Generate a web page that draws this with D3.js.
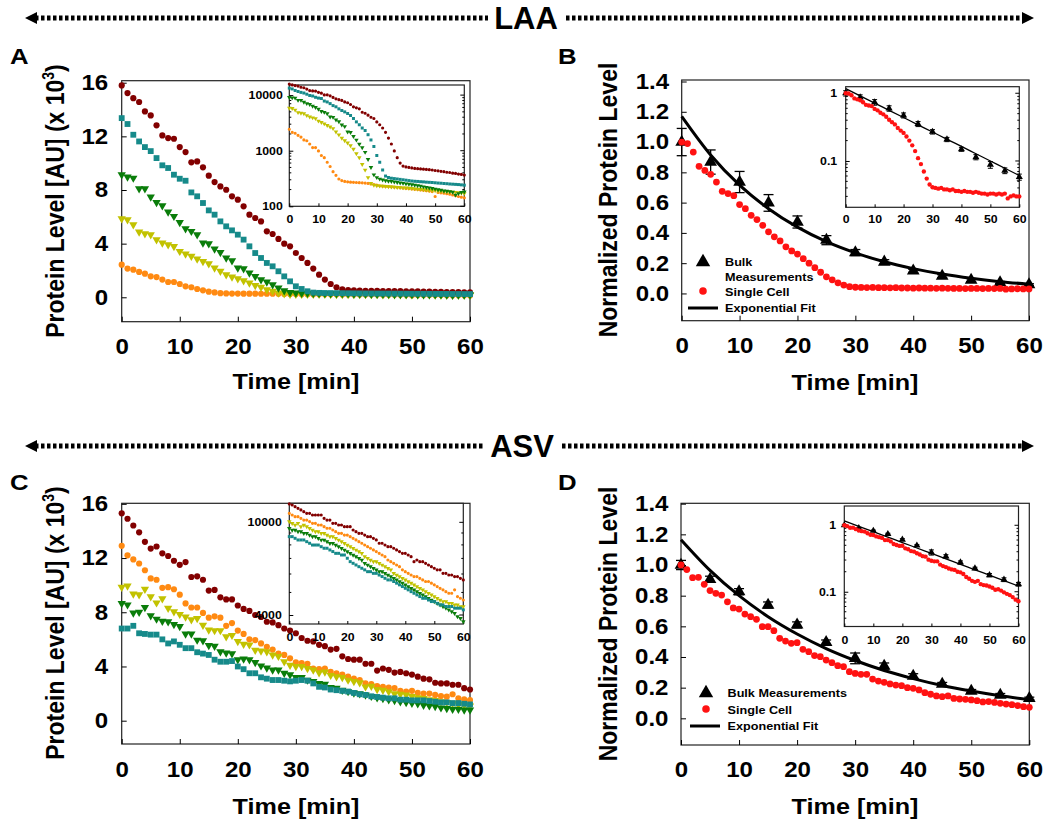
<!DOCTYPE html>
<html>
<head>
<meta charset="utf-8">
<title>LAA / ASV protein degradation</title>
<script src="https://cdn.jsdelivr.net/npm/d3@7"></script>
<style>
  body { margin: 0; background: #fff; }
  svg text { font-family: "Liberation Sans", Arial, sans-serif; font-weight: bold; fill: #000; }
</style>
</head>
<body>
<svg id="fig" width="1047" height="820"></svg>
<script>
// ---- time points ----
const minutes = [0,1,2,3,4,5,6,7,8,9,10,11,12,13,14,15,16,17,18,19,20,21,22,23,24,25,26,27,28,29,30,
  31,32,33,34,35,36,37,38,39,40,41,42,43,44,45,46,47,48,49,50,51,52,53,54,55,56,57,58,59,60];
const bulkTimes = [0,5,10,15,20,25,30,35,40,45,50,55,60];

// ---- panel A (LAA, single cells, AU) ----
const laaMaroon = [15800,15230,14850,14560,13860,13560,12820,12070,11870,11820,11200,
  10830,10060,10130,9690,9070,8590,8270,8020,7530,7280,
  6780,6160,5910,5660,4920,4720,4350,4000,3800,3300,
  2930,2560,2140,1690,1320,990,750,600,530,510,
  500,490,480,475,470,465,460,455,450,440,
  435,425,420,410,405,395,390,380,375,365];
const laaTeal = [13360,12920,12120,11620,11200,10900,10380,9840,9640,9140,8840,
  8690,7820,7530,7030,6480,6160,5660,5290,4990,4670,
  4300,3800,3300,2930,2560,2310,1940,1560,1190,820,
  620,450,350,330,320,315,310,305,300,295,
  290,285,282,280,277,275,272,270,268,265,
  262,260,257,255,252,250,248,246,243,240];
const laaGreen = [9140,8970,8890,8100,8100,7480,7080,6830,6360,6040,5590,
  5120,4920,4670,4050,4000,3600,3350,2930,2730,2190,
  2140,1810,1560,1320,1140,940,700,500,370,330,
  310,300,290,285,280,275,270,265,260,255,
  250,245,240,235,230,225,220,215,210,205,
  200,195,190,188,185,180,160,170,178,182];
const laaYellow = [5860,5790,5410,4870,4740,4670,4300,4050,3920,3800,3430,
  3230,3060,2860,2680,2510,2190,1940,1690,1520,1390,
  1240,1070,890,750,570,450,330,260,240,235,
  232,230,228,226,224,222,220,218,216,214,
  212,210,207,205,203,200,198,196,194,192,
  190,188,186,184,182,180,178,176,174,170];
const laaOrange = [2430,2140,2060,1890,1760,1560,1510,1320,1140,1140,990,
  820,750,620,520,420,360,310,290,280,276,
  272,270,268,266,264,262,258,252,246,240,
  234,230,228,226,224,222,220,216,213,210,
  208,205,202,200,197,194,191,188,184,150,
  178,175,172,168,165,160,155,150,146,142];

// ---- panel B (LAA, normalized) ----
const laaBulk = [1.0,0.868,0.736,0.598,0.472,0.352,0.27,0.208,0.149,0.114,0.088,0.072,0.058];
const laaBulkErr = [0.09,0.08,0.07,0.055,0.04,0.03,0.02,0.015,0.01,0.01,0.01,0.007,0.006];
const laaFit = [1.17,0.915,0.715,0.56,0.438,0.342,0.268,0.209,0.164,0.128,0.100,0.078,0.061];
const laaSingle = [1.0,0.99,0.934,0.84,0.813,0.787,0.736,0.675,0.66,0.646,0.587,
  0.56,0.516,0.488,0.45,0.407,0.374,0.347,0.308,0.281,0.26,
  0.23,0.2,0.17,0.14,0.11,0.09,0.07,0.055,0.045,0.041,
  0.04,0.039,0.04,0.038,0.038,0.037,0.038,0.036,0.036,0.035,
  0.036,0.035,0.035,0.034,0.035,0.034,0.033,0.033,0.032,0.033,
  0.033,0.032,0.033,0.032,0.033,0.028,0.030,0.031,0.030,0.030];

// ---- panel C (ASV, single cells, AU) ----
const asvMaroon = [15300,14900,14400,13900,13200,12700,12850,12350,12150,11800,11500,
  11700,10600,10650,10400,9600,9650,9100,8950,8950,8500,
  8250,8100,7800,7650,7300,7250,7050,6800,6650,6450,
  6100,5900,5850,5600,5500,5250,5300,4750,4550,4500,
  4500,4200,4200,3700,3850,3750,3550,3600,3500,3400,
  3250,3100,3050,2800,2750,2750,2650,2650,2400,2300];
const asvOrange = [12900,12200,11900,11600,11100,10500,10400,9800,9850,9700,9300,
  8650,8350,8350,7950,7600,7700,7600,7000,7200,6650,
  6400,6000,5950,5700,5450,5250,4950,4850,4600,4300,
  4250,4200,3850,3800,3850,3600,3500,3400,3250,3100,
  3000,2750,2700,2550,2500,2450,2400,2200,2150,2200,
  2050,2000,2000,1900,1820,1770,1950,1650,1570,1520];
const asvYellow = [9850,9950,9350,9300,9700,9150,8700,9000,8300,8050,7850,
  7650,7450,7550,7050,6700,6650,6650,6200,6300,5850,
  5650,5600,5200,5150,5100,4850,4750,4350,4100,4000,
  4000,3850,3750,3550,3600,3350,3250,3200,3000,2900,
  2800,2500,2550,2300,2250,2150,2000,1950,1900,1800,
  1700,1650,1550,1500,1400,1350,1300,1200,1150,1100];
const asvGreen = [8650,8550,7950,8000,8350,7750,7500,7350,7300,7100,6950,
  6400,6400,5950,5900,5550,5500,5100,5000,4950,4500,
  4550,4500,4300,4050,3900,3750,3750,3500,3400,3200,
  3200,3000,2900,2750,2700,2450,2400,2250,2150,2050,
  2000,1900,1800,1700,1650,1550,1500,1400,1350,1300,
  1250,1150,1100,1050,950,900,850,850,800,800];
const asvTeal = [6800,6800,7000,6450,6400,6350,6350,6000,5700,5850,5600,
  5350,5350,5050,4950,4850,4500,4350,4350,4400,4000,
  3800,3500,3500,3200,3100,3000,3000,2950,2900,2950,
  3000,2950,2750,2500,2450,2300,2250,2200,2150,2050,
  1950,1900,1800,1750,1700,1650,1650,1550,1550,1500,
  1500,1500,1450,1400,1350,1350,1300,1300,1250,1200];

// ---- panel C inset (ASV, log view, AU) ----
const asvInMaroon = [12000,11870,11670,11480,11300,11110,10930,10930,10750,10750,10750,
  10750,10400,10230,10230,9900,9900,9740,9740,9580,9580,
  9580,9270,9120,8970,8970,8820,8680,8680,8540,8400,
  8130,8130,7990,7860,7860,7740,7610,7490,7360,7360,
  7240,7120,6780,6890,6780,6780,6670,6560,6450,6350,
  6250,6250,6040,6040,5940,5940,5850,5850,5750,5660];
const asvInOrange = [10930,10750,10580,10580,10400,10230,10230,10070,9900,9900,9740,
  9740,9580,9430,9430,9270,9120,8970,8970,8820,8820,
  8680,8540,8400,8260,8130,7990,7860,7740,7610,7490,
  7360,7240,7120,6890,6780,6670,6560,6450,6250,6140,
  6040,5940,5850,5850,5750,5660,5570,5570,5480,5390,
  5300,5210,5130,5040,4960,4960,5130,4800,4720,4640];
const asvInYellow = [10070,9900,9740,9900,9580,9740,9580,9430,9270,9120,9120,
  8970,8970,8820,8680,8680,8540,8400,8260,8130,7990,
  7860,7740,7610,7490,7360,7120,7010,6890,6780,6780,
  6670,6560,6450,6350,6250,6040,5940,5850,5750,5660,
  5570,5480,5390,5300,5210,5130,5040,4960,4880,4800,
  4720,4640,4570,4570,4490,4490,4420,4420,4350,4350];
const asvInGreen = [9430,9270,9270,9120,9120,8970,8970,8820,8680,8680,8540,
  8400,8400,8260,8130,8130,7990,7860,7740,7610,7490,
  7360,7240,7120,7010,6890,6670,6560,6450,6350,6250,
  6140,6140,6040,5940,5850,5750,5660,5570,5480,5390,
  5300,5210,5130,5040,4960,4880,4800,4720,4640,4570,
  4490,4420,4350,4280,4210,4140,4070,3940,3870,3750];
const asvInTeal = [8680,8680,8540,8400,8400,8400,8260,8130,7990,7990,7990,
  7860,7740,7740,7610,7490,7360,7360,7240,7240,7010,
  6780,6670,6560,6450,6350,6250,6140,6140,6040,6040,
  5940,5850,5750,5660,5660,5570,5480,5390,5300,5210,
  5130,5040,4960,4880,4800,4720,4720,4640,4570,4570,
  4490,4420,4420,4350,4350,4350,4280,4280,4280,4210];

// ---- panel D (ASV, normalized) ----
const asvBulk = [1.0,0.907,0.826,0.739,0.609,0.496,0.391,0.341,0.276,0.224,0.178,0.152,0.13];
const asvBulkErr = [0.03,0.02,0.02,0.02,0.02,0.015,0.035,0.02,0.015,0.01,0.01,0.01,0.008];
const asvFit = [1.165,0.965,0.80,0.663,0.55,0.455,0.377,0.312,0.259,0.214,0.178,0.147,0.122];
const asvSingle = [1.0,0.97,0.917,0.92,0.874,0.833,0.815,0.804,0.76,0.72,0.713,
  0.68,0.663,0.646,0.598,0.598,0.572,0.522,0.504,0.489,0.493,
  0.45,0.435,0.409,0.402,0.38,0.363,0.343,0.337,0.304,0.293,
  0.287,0.287,0.256,0.243,0.235,0.224,0.217,0.213,0.2,0.196,
  0.185,0.167,0.157,0.146,0.141,0.146,0.13,0.126,0.124,0.12,
  0.115,0.107,0.109,0.104,0.098,0.093,0.089,0.083,0.076,0.072];

// ---- colours ----
const cMaroon = "#820000", cTeal = "#168a8a", cGreen = "#0a7d0a",
      cYellow = "#c2c200", cOrange = "#ff8a12", cRed = "#ff1212";

const STRETCH = 1.12;   // the figure is a bit wider than tall
const svg = d3.select("#fig");
svg.append("rect").attr("width", 1047).attr("height", 820).attr("fill", "#fff");

function label(g, x, y, str, size, anchor) {
  return g.append("text")
    .attr("transform", `translate(${x},${y}) scale(${STRETCH},1)`)
    .attr("text-anchor", anchor || "start")
    .style("font-size", size + "px")
    .text(str);
}

function stretchAxis(g, size) {
  g.attr("font-family", null).attr("font-size", null);
  g.selectAll("text").style("font-size", size + "px").each(function () {
    const t = d3.select(this);
    const x = +t.attr("x") || 0;
    t.attr("transform", `translate(${x},0) scale(${STRETCH},1)`).attr("x", 0);
  });
  g.selectAll(".tick line").attr("stroke", "#000");
  g.select(".domain").remove();
}

function box(g, x, y, fill) {
  g.append("rect")
    .attr("x", x.range()[0]).attr("y", y.range()[1])
    .attr("width", x.range()[1] - x.range()[0])
    .attr("height", y.range()[0] - y.range()[1])
    .attr("fill", fill || "none").attr("stroke", "#222").attr("stroke-width", 1.2);
}

function markers(g, x, y, xs, vals, shape, color, size, k) {
  const type = shape === "square" ? d3.symbolSquare : shape === "circle" ? d3.symbolCircle : d3.symbolTriangle;
  const rot = shape === "down" ? " rotate(180)" : "";
  g.append("g").selectAll("path")
    .data(vals.map((v, i) => [xs[i], v / (k || 1)]))
    .join("path")
    .attr("d", d3.symbol().type(type).size(size))
    .attr("transform", d => `translate(${x(d[0])},${y(d[1])})${rot}`)
    .attr("fill", color);
}

function mainAxes(g, x, y, yTicks, yFmt, padY, padX) {
  g.append("g").attr("transform", `translate(${x.range()[0]},0)`)
    .call(d3.axisLeft(y).tickValues(yTicks).tickFormat(yFmt).tickSize(-5).tickPadding(padY))
    .call(a => stretchAxis(a, 21.5));
  g.append("g").attr("transform", `translate(0,${y.range()[0]})`)
    .call(d3.axisBottom(x).tickValues([0,10,20,30,40,50,60]).tickSize(-5).tickPadding(padX))
    .call(a => stretchAxis(a, 21.5));
}

function insetAxes(g, x, y, yTicks, yFmt, minor, padY, padX) {
  g.append("g").attr("transform", `translate(${x.range()[0]},0)`)
    .call(d3.axisLeft(y).tickValues(yTicks).tickFormat(yFmt).tickSize(-4).tickPadding(padY))
    .call(a => stretchAxis(a, 11));
  g.append("g").attr("transform", `translate(0,${y.range()[0]})`)
    .call(d3.axisBottom(x).tickValues([0,10,20,30,40,50,60]).tickSize(-3).tickPadding(padX))
    .call(a => stretchAxis(a, 11));
  const x0 = x.range()[0], x1 = x.range()[1];
  const ticks = g.append("g").attr("stroke", "#000").attr("stroke-width", 1);
  ticks.selectAll("line.ml").data(minor).join("line")
    .attr("x1", x0).attr("x2", x0 + 2).attr("y1", d => y(d)).attr("y2", d => y(d));
  ticks.selectAll("line.mr").data(minor).join("line")
    .attr("x1", x1).attr("x2", x1 - 2).attr("y1", d => y(d)).attr("y2", d => y(d));
  ticks.selectAll("line.jr").data(yTicks).join("line")
    .attr("x1", x1).attr("x2", x1 - 4).attr("y1", d => y(d)).attr("y2", d => y(d));
}

function yTitle(g, x, y, build) {
  const t = g.append("text")
    .attr("transform", `translate(${x},${y}) scale(${STRETCH},1) rotate(-90)`)
    .attr("text-anchor", "middle").style("font-size", "23px");
  build(t);
}

function bulkPlot(g, x, y, bulk, err, fit, single, big) {
  const line = d3.line().x((d, i) => x(bulkTimes[i])).y(d => y(d)).curve(d3.curveMonotoneX);
  const cap = big ? 5 : 2.5;
  const eb = g.append("g").attr("stroke", "#000").attr("stroke-width", big ? 1.3 : 1);
  bulk.forEach((v, i) => {
    const xx = x(bulkTimes[i]);
    eb.append("line").attr("x1", xx).attr("x2", xx).attr("y1", y(v - err[i])).attr("y2", y(v + err[i]));
    eb.append("line").attr("x1", xx - cap).attr("x2", xx + cap).attr("y1", y(v + err[i])).attr("y2", y(v + err[i]));
    eb.append("line").attr("x1", xx - cap).attr("x2", xx + cap).attr("y1", y(v - err[i])).attr("y2", y(v - err[i]));
  });
  g.append("path").datum(fit).attr("d", line).attr("fill", "none")
    .attr("stroke", "#000").attr("stroke-width", big ? 3 : 1.3);
  markers(g, x, y, bulkTimes, bulk, "up", "#000", big ? 70 : 22);
  markers(g, x, y, minutes, single, "circle", cRed, big ? 36 : 15);
}

function dottedArrow(y, xl, xr, cx, gapL, gapR, txt) {
  const g = svg.append("g");
  const seg = [[xl + 10, cx - gapL], [cx + gapR, xr - 10]];
  seg.forEach(s => g.append("line").attr("x1", s[0]).attr("x2", s[1]).attr("y1", y).attr("y2", y)
    .attr("stroke", "#000").attr("stroke-width", 5).attr("stroke-dasharray", "3.5 2.5"));
  g.append("path").attr("d", `M${xl},${y} L${xl + 12},${y - 6} L${xl + 12},${y + 6} Z`);
  g.append("path").attr("d", `M${xr},${y} L${xr - 12},${y - 6} L${xr - 12},${y + 6} Z`);
  g.append("text").attr("x", cx).attr("y", y + 11).attr("text-anchor", "middle")
    .style("font-size", "31px").text(txt);
}

const fmt = d3.format("d");
const fmt1 = d3.format(".1f");
const logFmt = d => d >= 1 ? fmt(d) : String(d);

// ================= header rows =================
dottedArrow(18, 25, 1034, 526, 38, 40, "LAA");
dottedArrow(446, 25, 1034, 522, 38, 40, "ASV");

// ================= panel A =================
{
  const g = svg.append("g");
  const x = d3.scaleLinear([0, 60], [121.7, 470]);
  const y = d3.scaleLinear([-1.82, 16.15], [321.7, 80.7]);
  box(g, x, y);
  mainAxes(g, x, y, [0,4,8,12,16], fmt, 13.5, 17);
  markers(g, x, y, minutes, laaOrange, "circle", cOrange, 30, 1000);
  markers(g, x, y, minutes, laaYellow, "down", cYellow, 30, 1000);
  markers(g, x, y, minutes, laaGreen, "down", cGreen, 30, 1000);
  markers(g, x, y, minutes, laaMaroon, "circle", cMaroon, 30, 1000);
  markers(g, x, y, minutes, laaTeal, "square", cTeal, 34, 1000);

  const xi = d3.scaleLinear([0, 60], [289.3, 464.3]);
  const yi = d3.scaleLog([100, 15200], [206.3, 85]);
  box(g, xi, yi, "#fff");
  insetAxes(g, xi, yi, [100, 1000, 10000], fmt,
    [200,300,400,500,600,700,800,900,2000,3000,4000,5000,6000,7000,8000,9000], 6.5, 8.8);
  markers(g, xi, yi, minutes, laaOrange, "circle", cOrange, 8);
  markers(g, xi, yi, minutes, laaYellow, "down", cYellow, 9);
  markers(g, xi, yi, minutes, laaGreen, "down", cGreen, 9);
  markers(g, xi, yi, minutes, laaTeal, "square", cTeal, 9);
  markers(g, xi, yi, minutes, laaMaroon, "circle", cMaroon, 8);

  label(g, 10, 64, "A", 23);
  label(g, 296, 389, "Time [min]", 22.5, "middle");
  yTitle(g, 64, 201, t => {
    t.append("tspan").text("Protein Level [AU] (x 10");
    t.append("tspan").attr("dy", -9).style("font-size", "14px").text("3");
    t.append("tspan").attr("dy", 9).text(")");
  });
}

// ================= panel B =================
{
  const g = svg.append("g");
  const x = d3.scaleLinear([0, 60], [681.7, 1029]);
  const y = d3.scaleLinear([-0.18, 1.41], [320.7, 80]);
  box(g, x, y);
  mainAxes(g, x, y, [0,0.2,0.4,0.6,0.8,1.0,1.2,1.4], fmt1, 12.5, 17);
  bulkPlot(g, x, y, laaBulk, laaBulkErr, laaFit, laaSingle, true);

  const xi = d3.scaleLinear([0, 60], [845.7, 1019.3]);
  const yi = d3.scaleLog([0.0207, 1.25], [207.3, 86.7]);
  box(g, xi, yi, "#fff");
  insetAxes(g, xi, yi, [0.1, 1], logFmt,
    [0.03,0.04,0.05,0.06,0.07,0.08,0.09,0.2,0.3,0.4,0.5,0.6,0.7,0.8,0.9], 8.5, 7.8);
  bulkPlot(g, xi, yi, laaBulk, laaBulkErr, laaFit, laaSingle, false);

  // legend
  markers(g, d3.scaleIdentity(), d3.scaleIdentity(), [703], [262], "up", "#000", 90);
  label(g, 725, 266, "Bulk", 11.3);
  label(g, 725, 280.5, "Measurements", 11.3);
  markers(g, d3.scaleIdentity(), d3.scaleIdentity(), [703], [291], "circle", cRed, 45);
  label(g, 725, 295.5, "Single Cell", 11.3);
  g.append("line").attr("x1", 688).attr("x2", 718).attr("y1", 308).attr("y2", 308)
    .attr("stroke", "#000").attr("stroke-width", 3);
  label(g, 725, 312, "Exponential Fit", 11.3);

  label(g, 558, 64, "B", 23);
  label(g, 855, 390, "Time [min]", 22.5, "middle");
  yTitle(g, 617, 200, t => t.text("Normalized Protein Level"));
}

// ================= panel C =================
{
  const g = svg.append("g");
  const x = d3.scaleLinear([0, 60], [121.7, 470]);
  const y = d3.scaleLinear([-1.72, 16.04], [744, 503.3]);
  box(g, x, y);
  mainAxes(g, x, y, [0,4,8,12,16], fmt, 13.5, 17.5);
  markers(g, x, y, minutes, asvMaroon, "circle", cMaroon, 30, 1000);
  markers(g, x, y, minutes, asvOrange, "circle", cOrange, 30, 1000);
  markers(g, x, y, minutes, asvYellow, "down", cYellow, 30, 1000);
  markers(g, x, y, minutes, asvGreen, "down", cGreen, 30, 1000);
  markers(g, x, y, minutes, asvTeal, "square", cTeal, 34, 1000);

  const xi = d3.scaleLinear([0, 60], [289.3, 463.3]);
  const yi = d3.scaleLog([3660, 12070], [624, 503.3]);
  box(g, xi, yi, "#fff");
  insetAxes(g, xi, yi, [4000, 10000], fmt, [5000,6000,7000,8000,9000], 7.5, 9);
  markers(g, xi, yi, minutes, asvInMaroon, "circle", cMaroon, 8);
  markers(g, xi, yi, minutes, asvInOrange, "circle", cOrange, 8);
  markers(g, xi, yi, minutes, asvInYellow, "down", cYellow, 9);
  markers(g, xi, yi, minutes, asvInGreen, "down", cGreen, 9);
  markers(g, xi, yi, minutes, asvInTeal, "square", cTeal, 9);

  label(g, 10, 490, "C", 23);
  label(g, 296, 814, "Time [min]", 22.5, "middle");
  yTitle(g, 64, 623, t => {
    t.append("tspan").text("Protein Level [AU] (x 10");
    t.append("tspan").attr("dy", -9).style("font-size", "14px").text("3");
    t.append("tspan").attr("dy", 9).text(")");
  });
}

// ================= panel D =================
{
  const g = svg.append("g");
  const x = d3.scaleLinear([0, 60], [681, 1029.3]);
  const y = d3.scaleLinear([-0.174, 1.4025], [745, 503.3]);
  box(g, x, y);
  mainAxes(g, x, y, [0,0.2,0.4,0.6,0.8,1.0,1.2,1.4], fmt1, 12.5, 17);
  bulkPlot(g, x, y, asvBulk, asvBulkErr, asvFit, asvSingle, true);

  const xi = d3.scaleLinear([0, 60], [844.3, 1018.5]);
  const yi = d3.scaleLog([0.03, 1.95], [626.5, 506]);
  box(g, xi, yi, "#fff");
  insetAxes(g, xi, yi, [0.1, 1], logFmt,
    [0.04,0.05,0.06,0.07,0.08,0.09,0.2,0.3,0.4,0.5,0.6,0.7,0.8,0.9], 8.3, 9.6);
  bulkPlot(g, xi, yi, asvBulk, asvBulkErr, asvFit, asvSingle, false);

  markers(g, d3.scaleIdentity(), d3.scaleIdentity(), [706], [693], "up", "#000", 90);
  label(g, 727.5, 697, "Bulk Measurements", 11.3);
  markers(g, d3.scaleIdentity(), d3.scaleIdentity(), [706], [709], "circle", cRed, 45);
  label(g, 727.5, 713.5, "Single Cell", 11.3);
  g.append("line").attr("x1", 690).attr("x2", 720).attr("y1", 726).attr("y2", 726)
    .attr("stroke", "#000").attr("stroke-width", 3);
  label(g, 727.5, 730, "Exponential Fit", 11.3);

  label(g, 558, 490, "D", 23);
  label(g, 855, 814, "Time [min]", 22.5, "middle");
  yTitle(g, 617, 624, t => t.text("Normalized Protein Level"));
}
</script>
</body>
</html>
